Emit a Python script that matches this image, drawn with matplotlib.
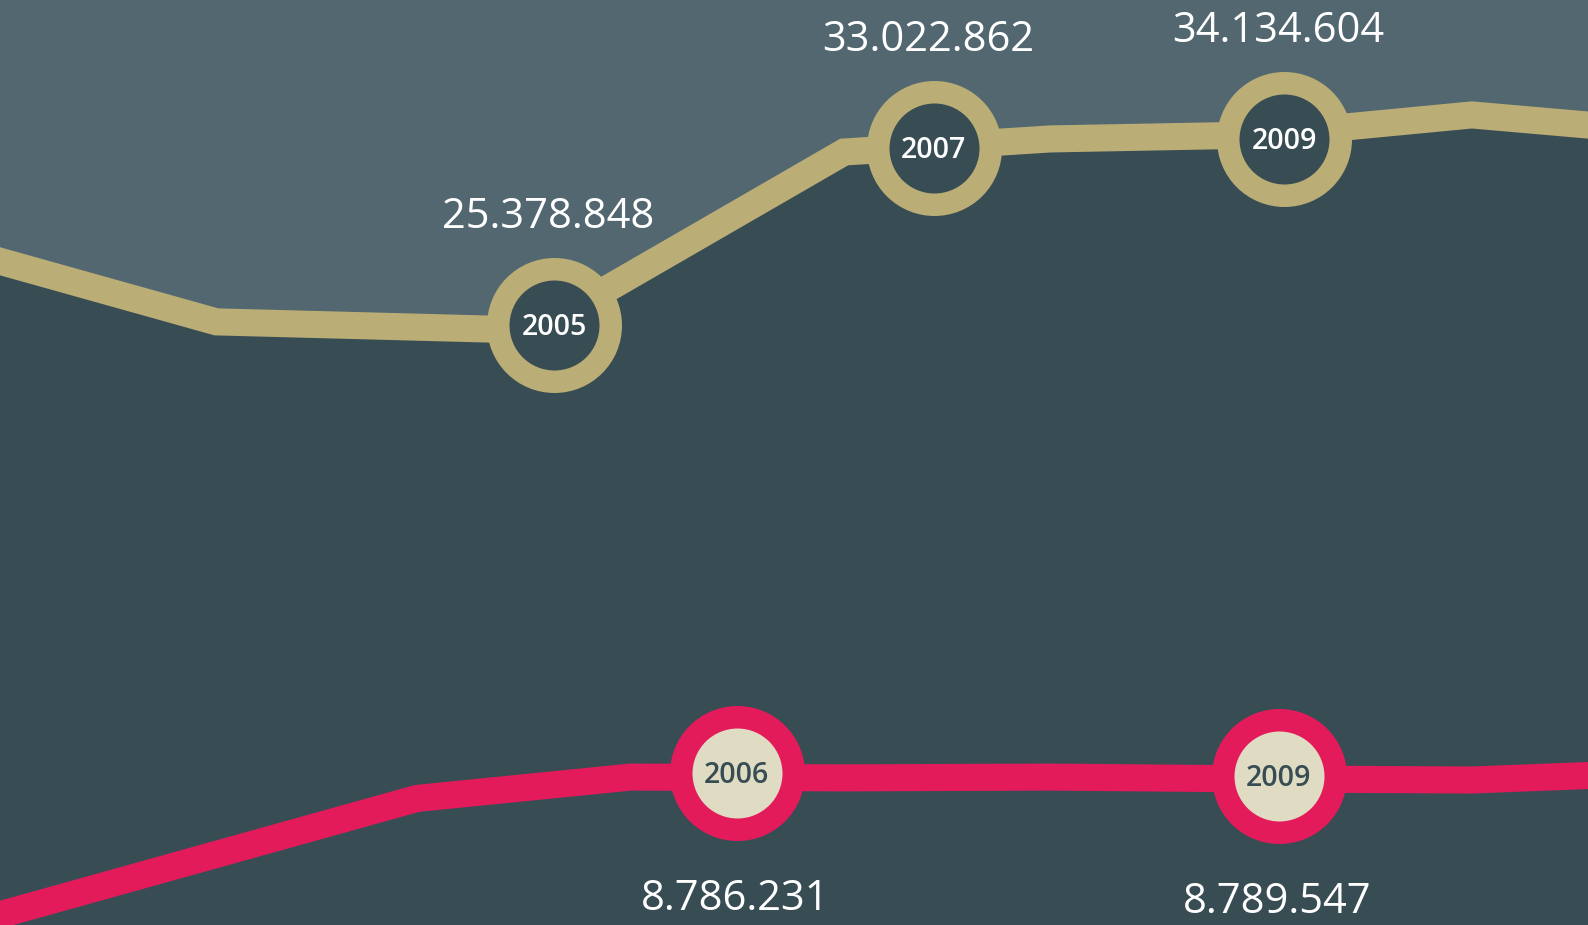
import numpy as np
import matplotlib
matplotlib.use("Agg")
import matplotlib.pyplot as plt

# valores en millones, eje x en años (aprox.)
oro_x = [2001.96, 2003.15, 2004.81, 2005.30, 2006.59, 2007.72, 2008.88, 2010.03, 2011.17]
oro_y = [27.88, 25.60, 25.30, 26.87, 31.97, 32.46, 32.61, 33.36, 32.68]

rojo_x = [2001.96, 2004.25, 2005.42, 2006.59, 2007.72, 2008.88, 2010.03, 2011.17]
rojo_y = [3.36, 7.73, 8.53, 8.50, 8.53, 8.46, 8.42, 8.72]

# marcas con el año y la cifra
oro_marcas_x = [2005.0, 2007.08, 2009.0]
oro_marcas_y = [25.48, 32.12, 32.46]
oro_anios = ["2005", "2007", "2009"]
oro_textos = ["25.378.848", "33.022.862", "34.134.604"]

rojo_marcas_x = [2006.0, 2008.97]
rojo_marcas_y = [8.68, 8.57]
rojo_anios = ["2006", "2009"]
rojo_textos = ["8.786.231", "8.789.547"]

c_fondo = "#526770"
c_oscuro = "#384c54"
c_oro = "#baad76"
c_rojo = "#e31b5b"
c_crema = "#e0dcc4"

plt.rcParams['font.family'] = ['Open Sans', 'DejaVu Sans']

fig = plt.figure(figsize=(15.88, 9.25), dpi=100)
ax = fig.add_axes([0, 0, 1, 1])
ax.set_facecolor(c_fondo)
ax.set_xlim(2001.964, 2010.666)
ax.set_ylim(2.983, 37.67)
ax.axis("off")
fig.patch.set_facecolor(c_fondo)

# zona bajo la linea dorada
ax.fill_between(oro_x, oro_y, 0, color=c_oscuro, lw=0, zorder=1)

ax.plot(oro_x, oro_y, color=c_oro, lw=19.5, solid_joinstyle="miter", zorder=2)
ax.plot(rojo_x, rojo_y, color=c_rojo, lw=19.5, solid_joinstyle="miter", zorder=2)

# circulos
ax.plot(oro_marcas_x, oro_marcas_y, "o", ms=81, mew=16.2, mec=c_oro, mfc=c_oscuro, zorder=3)
ax.plot(rojo_marcas_x, rojo_marcas_y, "o", ms=81, mew=16.2, mec=c_rojo, mfc=c_crema, zorder=3)

for x, y, a, t in zip(oro_marcas_x, oro_marcas_y, oro_anios, oro_textos):
    ax.annotate(a, (x, y), xytext=(0, -7.4), textcoords="offset points",
                ha="center", va="baseline", color="white", fontsize=20.5,
                fontweight="semibold", zorder=4)
    ax.annotate(t, (x, y), xytext=(-4, 69.8), textcoords="offset points",
                ha="center", va="baseline", color="white", fontsize=30, zorder=4)

for x, y, a, t in zip(rojo_marcas_x, rojo_marcas_y, rojo_anios, rojo_textos):
    ax.annotate(a, (x, y), xytext=(0, -7.4), textcoords="offset points",
                ha="center", va="baseline", color=c_oscuro, fontsize=20.5,
                fontweight="semibold", zorder=4)
    ax.annotate(t, (x, y), xytext=(-1, -98.6), textcoords="offset points",
                ha="center", va="baseline", color="white", fontsize=30, zorder=4)

plt.savefig("out.png", dpi=100, facecolor=c_fondo)
